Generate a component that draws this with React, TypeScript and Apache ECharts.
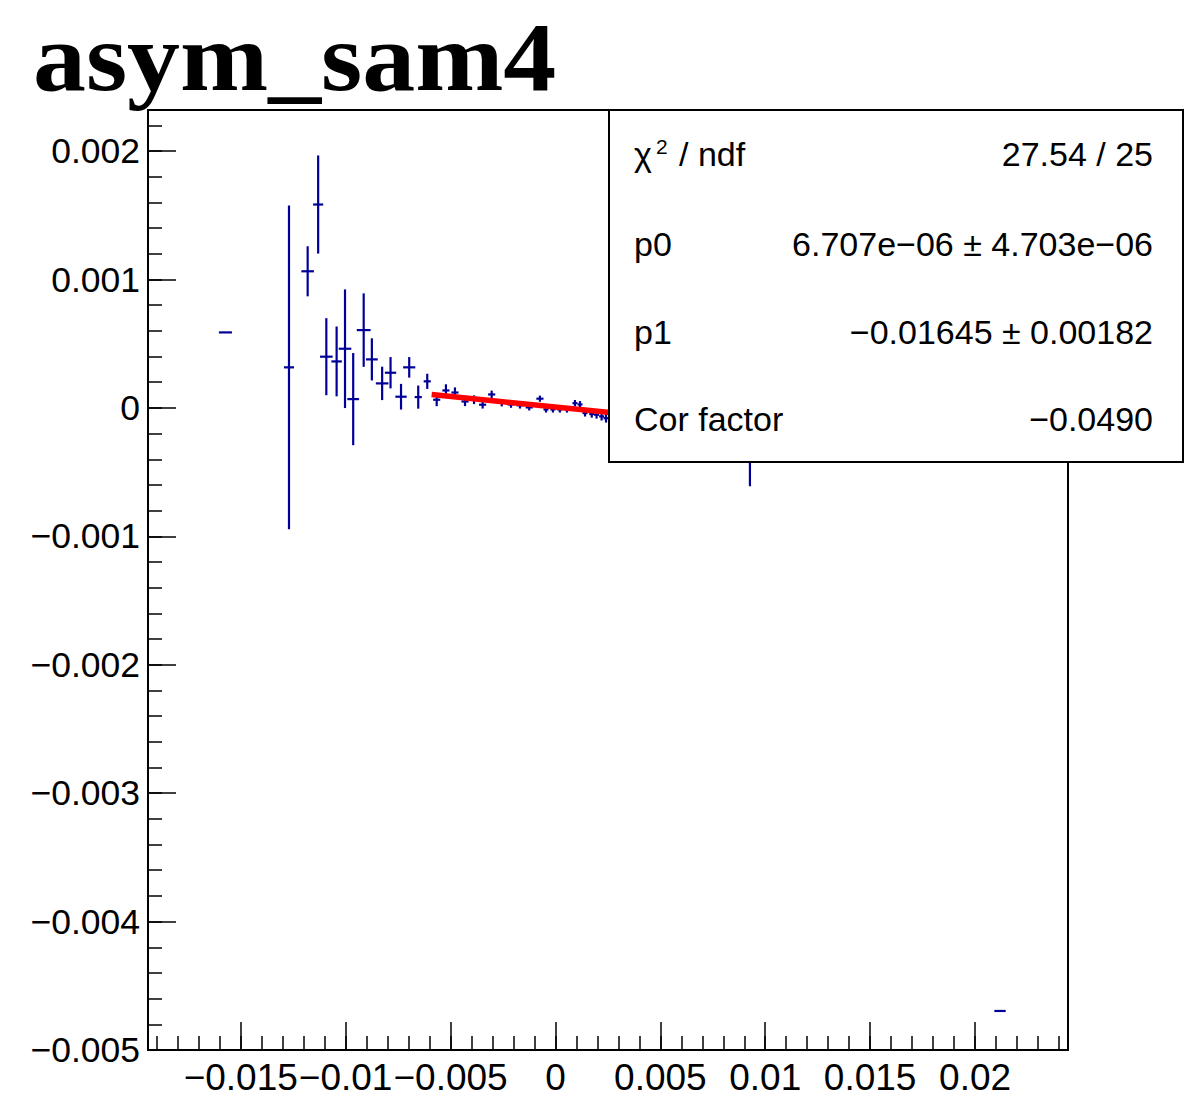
import React, { useEffect, useRef } from "react";
import * as echarts from "echarts";

// ---- data ----
const xs = [
  -0.01573, -0.0127, -0.01181, -0.01131, -0.01092, -0.01043, -0.01003, -0.00964, -0.00914, -0.00875,
  -0.00826, -0.00786, -0.00736, -0.00697, -0.00654, -0.00611, -0.00566, -0.00522, -0.00479, -0.00431,
  -0.00388, -0.00347, -0.00304, -0.00256, -0.00212, -0.00169, -0.00125, -0.00074, -0.00045, -0.00012,
  0.00021, 0.00055, 0.00093, 0.00117, 0.00141, 0.00173, 0.00196, 0.0022, 0.00241, 0.0027,
  0.0031, 0.0036, 0.0042, 0.00927, 0.02119,
];
const ys = [
  0.000588, 0.000316, 0.001064, 0.001584, 0.000399, 0.000362, 0.000461, 0.0000686, 0.000606, 0.000378,
  0.000191, 0.000274, 0.0000873, 0.000316, 0.0000842, 0.000207, 0.0000637, 0.000136, 0.00012, 0.00005,
  0.000064, 0.000025, 0.000105, 0.00004, 0.000027, 0.00002, 0.000004, 0.000072, -0.000012, -0.000012,
  -0.000012, -0.000012, 0.000037, 0.000027, -0.00004, -0.000048, -0.000053, -0.000066, -0.00008, -0.00004,
  -0.00005, -0.00005, -0.00006, 0.0002, -0.004696,
];
const yErrs = [
  0.0, 0.00126, 0.000195, 0.000382, 0.0003, 0.000272, 0.000462, 0.000359, 0.000286, 0.000164,
  0.00013, 0.000122, 0.0001, 0.00008, 0.00009, 0.000059, 0.00005, 0.000048, 0.00004, 0.000036,
  0.000034, 0.00003, 0.00003, 0.000028, 0.000026, 0.000025, 0.000024, 0.000024, 0.000024, 0.000024,
  0.000024, 0.000024, 0.000025, 0.000026, 0.000027, 0.000028, 0.00003, 0.000032, 0.000034, 0.00004,
  0.00005, 0.00006, 0.00008, 0.00081, 0.0,
];
const xErrs = [
  0.00031, 0.00024, 0.0003, 0.00024, 0.0003, 0.00025, 0.0003, 0.00028, 0.00033, 0.00028,
  0.0003, 0.00027, 0.00027, 0.00029, 0.00017, 0.00017, 0.00017, 0.00017, 0.00017, 0.00017,
  0.00017, 0.00017, 0.00017, 0.00017, 0.00017, 0.00017, 0.00017, 0.00017, 0.00012, 0.00012,
  0.00012, 0.00012, 0.00012, 0.00012, 0.00012, 0.00012, 0.00012, 0.00012, 0.00012, 0.00015,
  0.00015, 0.00015, 0.00015, 0.0003, 0.00027,
];

// fit parameters (pol1) and range
const p0 = 6.707e-6;
const p1 = -0.01645;
const fitRange = [-0.0059, 0.0045];

// axes
const xMin = -0.01942;
const xMax = 0.02443;
const yMin = -0.005;
const yMax = 0.00232;
const xTicks = [-0.015, -0.01, -0.005, 0, 0.005, 0.01, 0.015, 0.02];
const xTickLabels = ["\u22120.015", "\u22120.01", "\u22120.005", "0", "0.005", "0.01", "0.015", "0.02"];
const yTicks = [-0.005, -0.004, -0.003, -0.002, -0.001, 0, 0.001, 0.002];
const yTickLabels = ["\u22120.005", "\u22120.004", "\u22120.003", "\u22120.002", "\u22120.001", "0", "0.001", "0.002"];

const title = "asym_sam4";
const statsRows = [
  { label: "p0", value: "6.707e\u221206 \u00b1 4.703e\u221206" },
  { label: "p1", value: "\u22120.01645 \u00b1 0.00182" },
  { label: "Cor factor", value: "\u22120.0490" },
];
const chi2Value = "27.54 / 25";

const xMinor: number[] = [];
for (let i = -19; i <= 24; i++) xMinor.push(i / 1000);
const yMinor: number[] = [];
for (let i = -25; i <= 11; i++) yMinor.push(i / 5000);

const BLUE = "#000099";
const FONT = "Liberation Sans";

function labelFor(v: number, ticks: number[], labels: string[]) {
  for (let i = 0; i < ticks.length; i++) if (Math.abs(ticks[i] - v) < 1e-9) return labels[i];
  return "";
}

export default function App() {
  const ref = useRef<HTMLDivElement>(null);
  useEffect(() => {
    if (!ref.current) return;
    const chart = echarts.init(ref.current, null, { renderer: "svg" });
    const data = xs.map((x, i) => [x, ys[i], xErrs[i], yErrs[i]]);
    const fitData = fitRange.map((x) => [x, p0 + p1 * x]);
    const tickStyle = { color: "#000", width: 1.5 };
    const rowY = [154, 244, 332, 419];
    const Z = 100;
    const txt = (x: number, y: number, text: string, align: string, size = 34) => ({
      type: "text",
      x,
      y,
      z: Z + 2,
      style: { text, fontFamily: FONT, fontSize: size, fill: "#000", align, verticalAlign: "middle" },
    });
    const option: any = {
      animation: false,
      backgroundColor: "#fff",
      grid: {
        left: 148,
        top: 110,
        right: 116,
        bottom: 69,
        show: true,
        borderColor: "#000",
        borderWidth: 2,
        backgroundColor: "transparent",
      },
      xAxis: [
        {
          type: "value",
          min: xMin,
          max: xMax,
          position: "bottom",
          splitLine: { show: false },
          axisLine: { show: true, onZero: false, lineStyle: { color: "#000", width: 2 } },
          axisTick: { show: true, inside: true, length: 28, lineStyle: tickStyle, customValues: xTicks },
          axisLabel: {
            show: true,
            customValues: xTicks,
            margin: 9,
            fontSize: 37,
            fontFamily: FONT,
            color: "#000",
            formatter: (v: number) => labelFor(v, xTicks, xTickLabels),
          },
        },
        {
          type: "value",
          min: xMin,
          max: xMax,
          position: "bottom",
          splitLine: { show: false },
          axisLine: { show: false, onZero: false },
          axisTick: { show: true, inside: true, length: 14, lineStyle: tickStyle, customValues: xMinor },
          axisLabel: { show: false },
        },
      ],
      yAxis: [
        {
          type: "value",
          min: yMin,
          max: yMax,
          position: "left",
          splitLine: { show: false },
          axisLine: { show: true, onZero: false, lineStyle: { color: "#000", width: 2 } },
          axisTick: { show: true, inside: true, length: 28, lineStyle: tickStyle, customValues: yTicks },
          axisLabel: {
            show: true,
            customValues: yTicks,
            margin: 8,
            fontSize: 35.5,
            fontFamily: FONT,
            color: "#000",
            formatter: (v: number) => labelFor(v, yTicks, yTickLabels),
          },
        },
        {
          type: "value",
          min: yMin,
          max: yMax,
          position: "left",
          splitLine: { show: false },
          axisLine: { show: false, onZero: false },
          axisTick: { show: true, inside: true, length: 14, lineStyle: tickStyle, customValues: yMinor },
          axisLabel: { show: false },
        },
      ],
      series: [
        {
          type: "custom",
          xAxisIndex: 0,
          yAxisIndex: 0,
          z: 2,
          clip: true,
          data,
          encode: { x: 0, y: 1 },
          renderItem: (_params: any, api: any) => {
            const x = api.value(0);
            const y = api.value(1);
            const ex = api.value(2);
            const ey = api.value(3);
            const c = api.coord([x, y]);
            const l = api.coord([x - ex, y]);
            const r = api.coord([x + ex, y]);
            const t = api.coord([x, y + ey]);
            const b = api.coord([x, y - ey]);
            const style = { stroke: BLUE, lineWidth: 2.2, fill: null };
            return {
              type: "group",
              children: [
                { type: "line", shape: { x1: l[0], y1: c[1], x2: r[0], y2: c[1] }, style },
                { type: "line", shape: { x1: c[0], y1: t[1], x2: c[0], y2: b[1] }, style },
              ],
            };
          },
        },
        {
          type: "line",
          xAxisIndex: 0,
          yAxisIndex: 0,
          z: 3,
          data: fitData,
          showSymbol: false,
          symbol: "none",
          lineStyle: { color: "#ff0000", width: 5.5 },
        },
      ],
      graphic: {
        elements: [
          {
            type: "text",
            x: 33,
            y: 57,
            scaleX: 1.08,
            z: Z,
            style: {
              text: title,
              fontFamily: "Liberation Serif",
              fontWeight: "bold",
              fontSize: 98,
              lineHeight: 86,
              verticalAlign: "middle",
              fill: "#000",
            },
          },
          {
            type: "rect",
            z: Z,
            shape: { x: 609, y: 110, width: 574, height: 352 },
            style: { fill: "#fff", stroke: "#000", lineWidth: 2 },
          },
          txt(634, rowY[0], "\u03c7", "left"),
          txt(656, 146, "2", "left", 21),
          txt(679, rowY[0], "/ ndf", "left"),
          txt(1153, rowY[0], chi2Value, "right"),
          ...statsRows.flatMap((row, i) => [
            txt(634, rowY[i + 1], row.label, "left"),
            txt(1153, rowY[i + 1], row.value, "right"),
          ]),
        ],
      },
    };
    chart.setOption(option);
    return () => chart.dispose();
  }, []);
  return (
    <div
      ref={ref}
      style={{ position: "fixed", left: 0, top: 0, width: 1184, height: 1119, background: "#fff" }}
    />
  );
}
